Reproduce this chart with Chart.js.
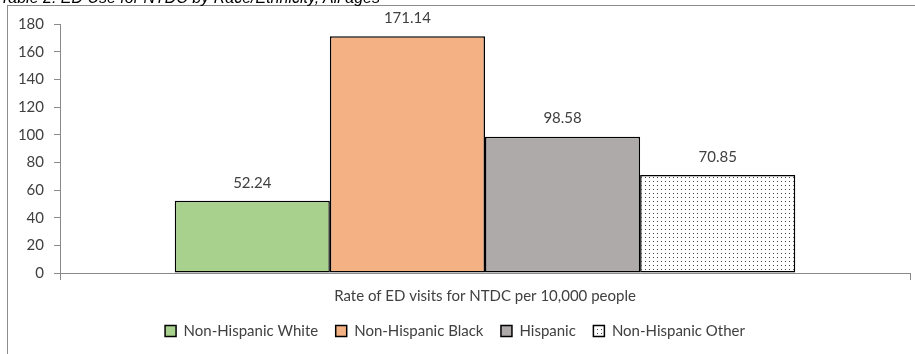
<!DOCTYPE html>
<html>
<head>
<meta charset="utf-8">
<script src="https://cdn.jsdelivr.net/npm/chart.js@4.4.1/dist/chart.umd.min.js"></script>
<style>
  html, body { margin: 0; padding: 0; background: #fff; overflow: hidden; }
  #wrap { position: relative; width: 915px; height: 354px; }
  #caption {
    position: absolute; left: 0; top: -11px;
    font: italic 16px "Liberation Sans", Arial, sans-serif; color: #000;
    white-space: nowrap; line-height: 18px;
  }
  canvas { position: absolute; left: 0; top: 0; }
</style>
</head>
<body>
<div id="wrap">
  <canvas id="c" width="915" height="354"></canvas>
  <div id="caption">Table 2. ED Use for NTDC by Race/Ethnicity, All ages</div>
</div>
<script>
// Rate of ED visits for NTDC per 10,000 people, by race / ethnicity
const categories = ["Rate of ED visits for NTDC per 10,000 people"];
const groups = ["Non-Hispanic White", "Non-Hispanic Black", "Hispanic", "Non-Hispanic Other"];
const rates = [52.24, 171.14, 98.58, 70.85];
const yTicks = [0, 20, 40, 60, 80, 100, 120, 140, 160, 180];

const FONT = "Lato, 'Liberation Sans', sans-serif";
const TEXT = "#404040";

// stippled fill for the last group
function dotPattern() {
  const t = document.createElement("canvas");
  t.width = 4; t.height = 4;
  const g = t.getContext("2d");
  g.fillStyle = "#fff";
  g.fillRect(0, 0, 4, 4);
  g.fillStyle = "#444";
  g.fillRect(1, 1, 1, 1);
  return g.createPattern(t, "repeat");
}
const fills = ["#A9D18E", "#F4B183", "#AEAAAA", dotPattern()];

const datasets = groups.map((name, i) => ({
  label: name,
  data: [rates[i]],
  backgroundColor: fills[i],
  borderColor: "#000",
  borderWidth: 1.5,
  borderSkipped: false,
  categoryPercentage: 0.73,
  barPercentage: 1.0
}));

const frame = {
  id: "frame",
  beforeDraw(chart) {
    const ctx = chart.ctx;
    ctx.save();
    ctx.fillStyle = "#fff";
    ctx.fillRect(0, 0, chart.width, chart.height);
    ctx.strokeStyle = "#8c8c8c";
    ctx.lineWidth = 1;
    ctx.strokeRect(7.5, 5.5, 1200, 1200);
    ctx.restore();
  }
};

const valueLabels = {
  id: "valueLabels",
  afterDatasetsDraw(chart) {
    const ctx = chart.ctx;
    ctx.save();
    ctx.font = "15px " + FONT;
    ctx.fillStyle = TEXT;
    ctx.textAlign = "center";
    ctx.textBaseline = "middle";
    chart.data.datasets.forEach((ds, i) => {
      chart.getDatasetMeta(i).data.forEach((bar, j) => {
        ctx.fillText(ds.data[j].toFixed(2), bar.x, bar.y - 18);
      });
    });
    ctx.restore();
  }
};

new Chart(document.getElementById("c"), {
  type: "bar",
  data: { labels: categories, datasets },
  options: {
    responsive: false,
    animation: false,
    layout: { padding: { left: 0, right: 5, top: 24, bottom: 5.5 } },
    plugins: {
      tooltip: { enabled: false },
      legend: {
        position: "bottom",
        labels: {
          font: { size: 15, family: FONT },
          color: TEXT,
          boxWidth: 11,
          boxHeight: 11,
          padding: 17.5
        }
      }
    },
    scales: {
      x: {
        grid: { display: true, drawOnChartArea: false, tickLength: 7, color: "#898989", offset: true },
        border: { color: "#898989" },
        ticks: { font: { size: 15, family: FONT }, color: TEXT, padding: 7 },
        afterFit(s) { s.height = 33; }
      },
      y: {
        min: 0, max: 180,
        afterBuildTicks(s) { s.ticks = yTicks.map(v => ({ value: v })); },
        grid: { display: true, drawOnChartArea: false, tickLength: 6, color: "#898989" },
        border: { color: "#898989" },
        ticks: { font: { size: 15, family: FONT }, color: TEXT, padding: 10 },
        afterFit(s) { s.width = 60; }
      }
    }
  },
  plugins: [frame, valueLabels]
});
</script>
</body>
</html>
